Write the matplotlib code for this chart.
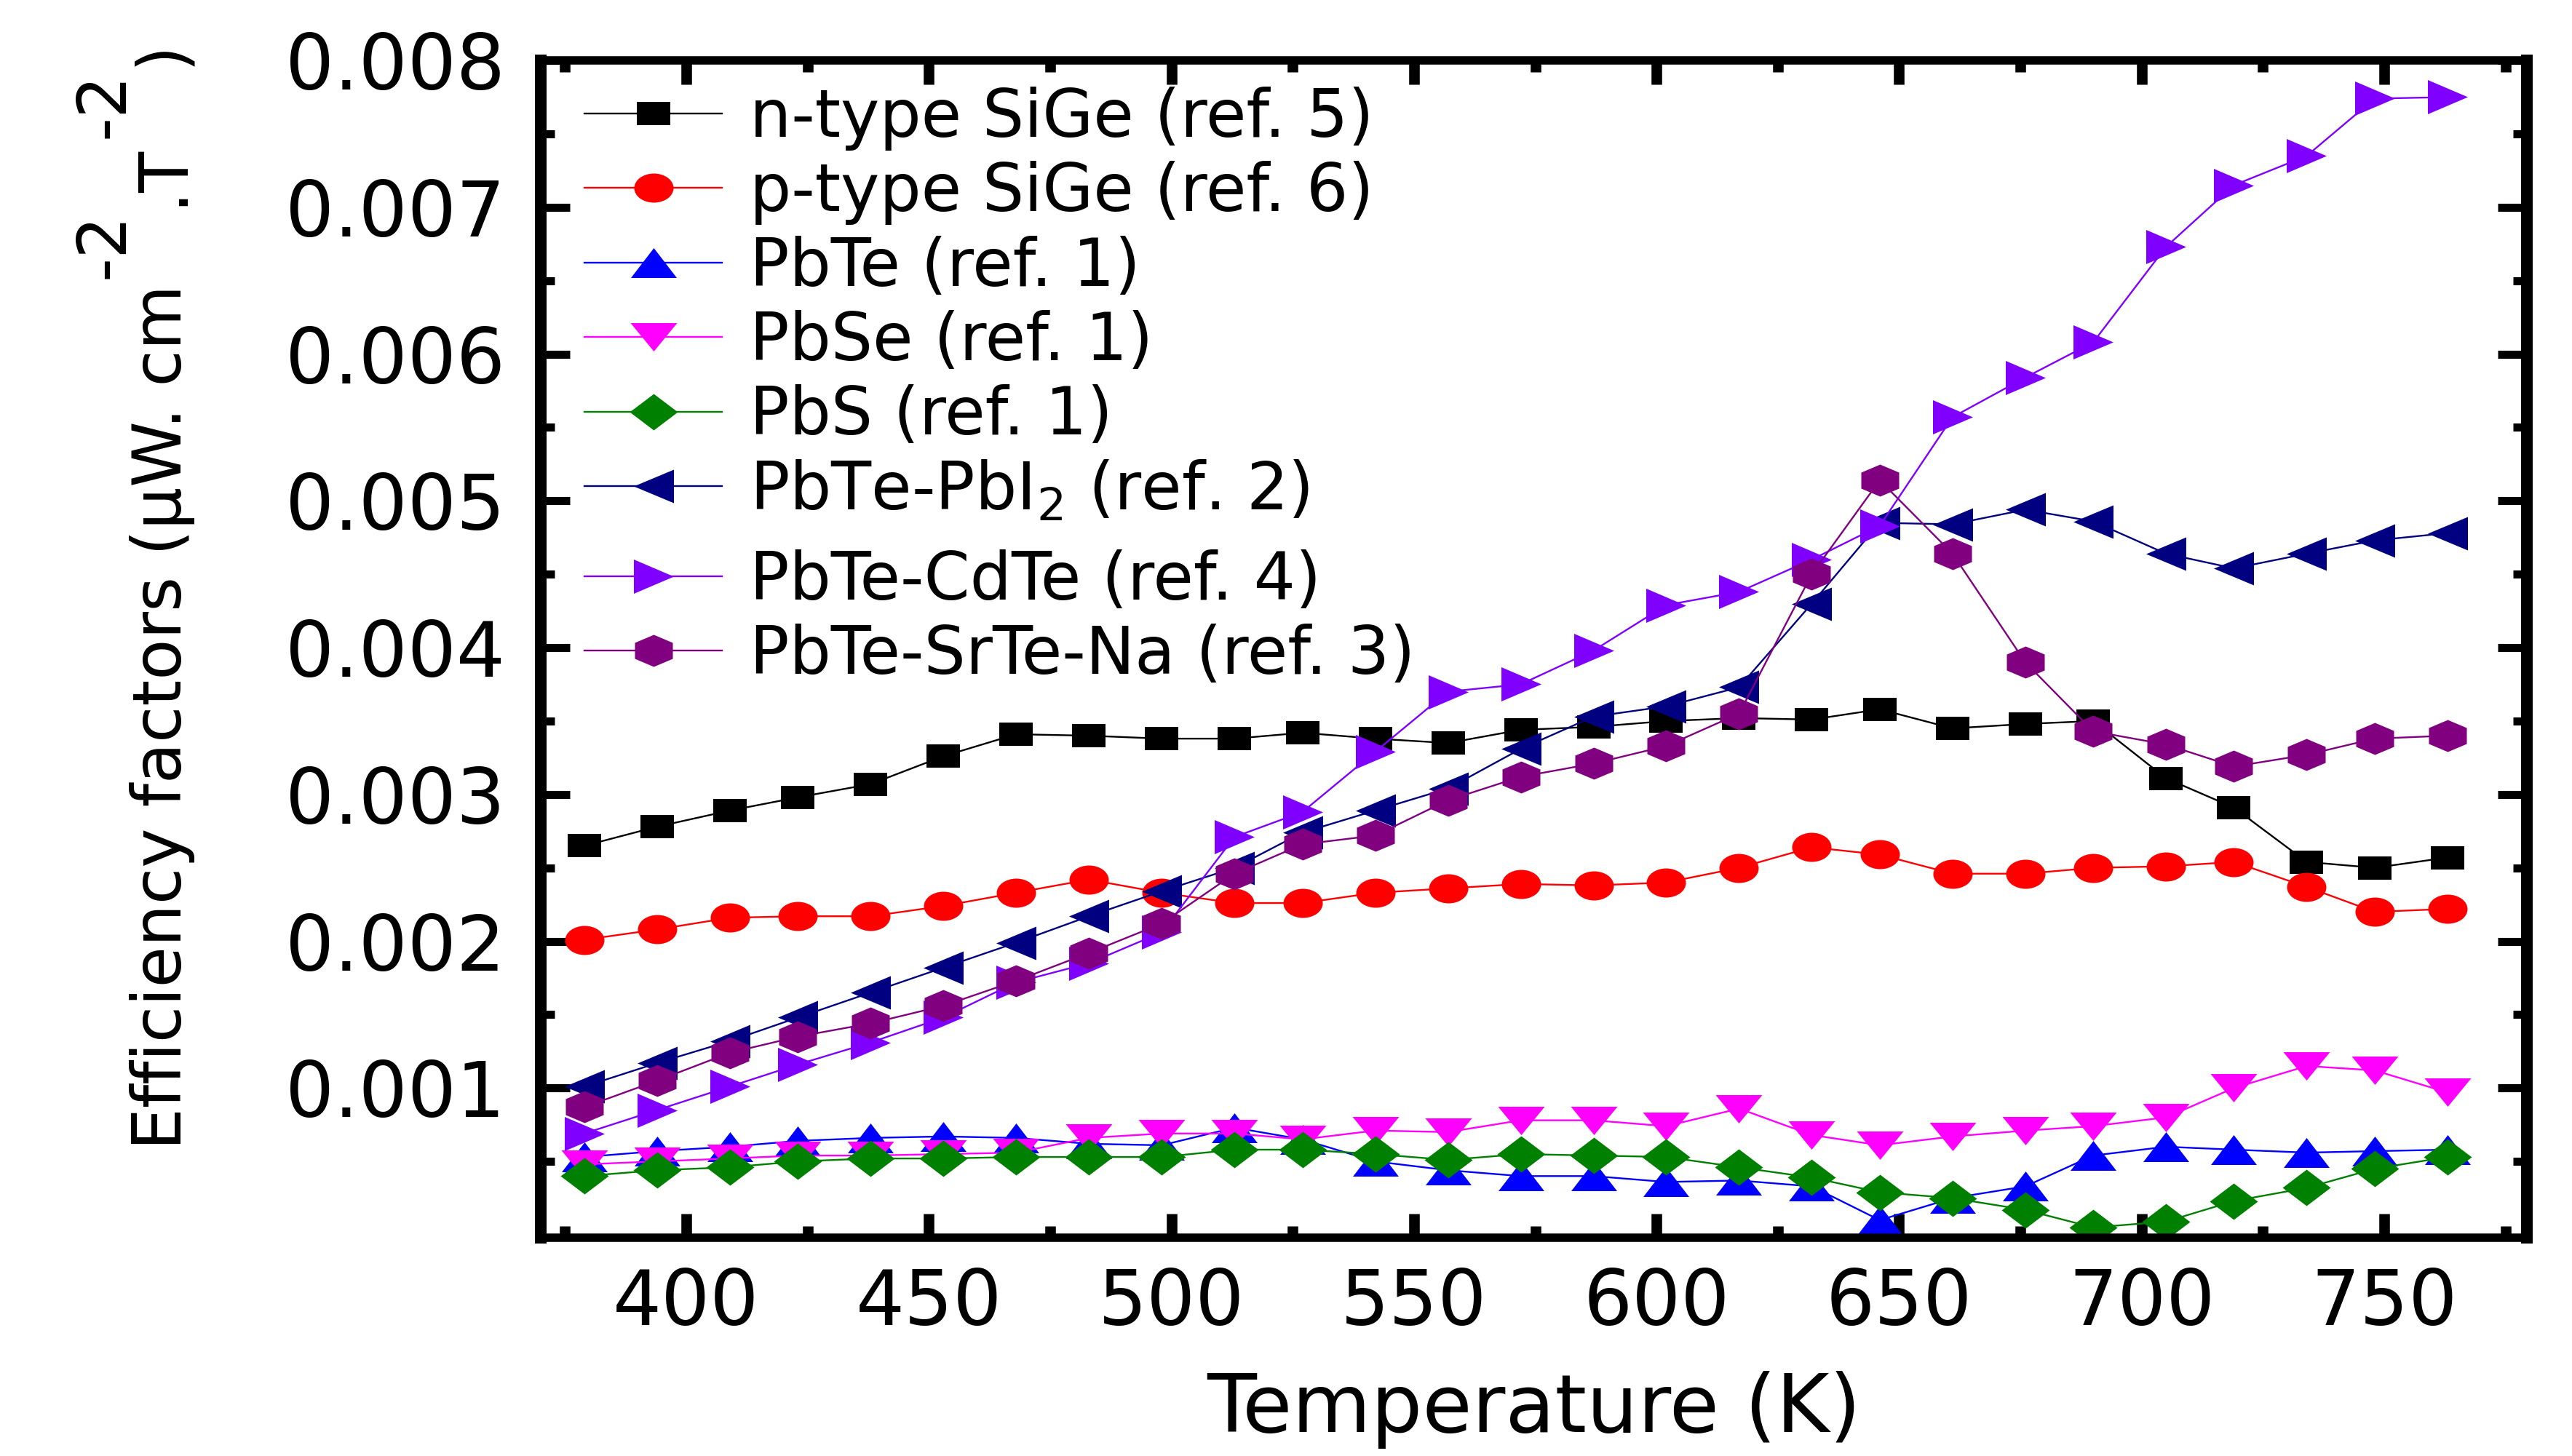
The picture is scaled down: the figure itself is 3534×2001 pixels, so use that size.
import matplotlib
matplotlib.use('Agg')
import matplotlib.pyplot as plt
from matplotlib.markers import MarkerStyle
from matplotlib.transforms import Affine2D
from matplotlib.ticker import FixedLocator, FormatStrFormatter

# temperature (K), same grid for every material
temperature = [379, 394, 409, 423, 438, 453, 468, 483, 498, 513, 527, 542, 557, 572,
               587, 602, 617, 632, 646, 661, 676, 690, 705, 719, 734, 748, 763]

n_sige = [0.00265, 0.00278, 0.00289, 0.00298, 0.00307, 0.00326, 0.00341, 0.00340, 0.00338,
          0.00338, 0.00342, 0.00338, 0.00335, 0.00344, 0.00346, 0.00350, 0.00352, 0.00351,
          0.00358, 0.00345, 0.00348, 0.00350, 0.00311, 0.00291, 0.00254, 0.00250, 0.00257]
p_sige = [0.00201, 0.00208, 0.00216, 0.00217, 0.00217, 0.00224, 0.00233, 0.00242, 0.00233,
          0.00226, 0.00226, 0.00233, 0.00236, 0.00239, 0.00238, 0.00240, 0.00250, 0.00264,
          0.00259, 0.00246, 0.00246, 0.00250, 0.00251, 0.00254, 0.00237, 0.00220, 0.00222]
pbte = [0.00053, 0.00057, 0.00060, 0.00064, 0.00066, 0.00067, 0.00066, 0.00062, 0.00061,
        0.00073, 0.00065, 0.00050, 0.00044, 0.00040, 0.00040, 0.00036, 0.00037, 0.00033,
        0.00010, 0.00025, 0.00033, 0.00054, 0.00060, 0.00058, 0.00056, 0.00057, 0.00058]
pbse = [0.00048, 0.00050, 0.00052, 0.00054, 0.00054, 0.00055, 0.00056, 0.00066, 0.00069,
        0.00069, 0.00065, 0.00071, 0.00070, 0.00078, 0.00078, 0.00074, 0.00086, 0.00068,
        0.00061, 0.00067, 0.00071, 0.00074, 0.00080, 0.00100, 0.00115, 0.00112, 0.00097]
pbs = [0.00040, 0.00044, 0.00046, 0.00050, 0.00052, 0.00052, 0.00053, 0.00053, 0.00053,
       0.00058, 0.00058, 0.00055, 0.00051, 0.00055, 0.00054, 0.00053, 0.00046, 0.00039,
       0.00029, 0.00025, 0.00017, 0.00005, 0.00009, 0.00023, 0.00032, 0.00045, 0.00053]
pbte_pbi2 = [0.00101, 0.00117, 0.00132, 0.00148, 0.00165, 0.00182, 0.00199, 0.00217, 0.00234,
             0.00250, 0.00274, 0.00289, 0.00304, 0.00331, 0.00353, 0.00360, 0.00373, 0.00430,
             0.00485, 0.00484, 0.00494, 0.00486, 0.00464, 0.00454, 0.00464, 0.00473, 0.00478]
pbte_cdte = [0.00069, 0.00085, 0.00101, 0.00116, 0.00131, 0.00148, 0.00172, 0.00185, 0.00206,
             0.00271, 0.00288, 0.00329, 0.00370, 0.00375, 0.00398, 0.00429, 0.00438, 0.00460,
             0.00483, 0.00557, 0.00584, 0.00608, 0.00673, 0.00715, 0.00735, 0.00774, 0.00775]
pbte_srte_na = [0.00087, 0.00105, 0.00124, 0.00135, 0.00144, 0.00156, 0.00173, 0.00192, 0.00212,
                0.00246, 0.00266, 0.00272, 0.00296, 0.00312, 0.00321, 0.00333, 0.00355, 0.00450,
                0.00514, 0.00464, 0.00390, 0.00343, 0.00334, 0.00319, 0.00327, 0.00338, 0.00340]

labels = ['n-type SiGe (ref. 5)', 'p-type SiGe (ref. 6)', 'PbTe (ref. 1)', 'PbSe (ref. 1)',
          'PbS (ref. 1)', 'PbTe-PbI$_2$ (ref. 2)', 'PbTe-CdTe (ref. 4)', 'PbTe-SrTe-Na (ref. 3)']
series = [n_sige, p_sige, pbte, pbse, pbs, pbte_pbi2, pbte_cdte, pbte_srte_na]

xticks = [400, 450, 500, 550, 600, 650, 700, 750]
xminor = [375, 425, 475, 525, 575, 625, 675, 725, 775]
yticks = [0.001, 0.002, 0.003, 0.004, 0.005, 0.006, 0.007, 0.008]
yminor = [0.0005, 0.0015, 0.0025, 0.0035, 0.0045, 0.0055, 0.0065, 0.0075]

# y label pieces: (text, raised?)
ylabel_parts = [('Efficiency factors (μW. cm', False), ('-2', True), ('.T', False),
                ('-2', True), (')', False)]

# colour, base marker, marker width/height in pixels (the original is stretched sideways)
styles = [('#000000', 's', 46, 33),
          ('#ff0000', 'o', 54, 40),
          ('#0000ff', '^', 63, 41),
          ('#ff00ff', 'v', 64, 39),
          ('#008000', 'D', 66, 50),
          ('#000080', '<', 55, 46),
          ('#8000ff', '>', 55, 47),
          ('#800080', 'h', 52, 44)]

DPI = 100
PT = 72.0 / DPI
W, H = 3534, 2001


def wide_marker(m, w, h):
    st = MarkerStyle(m)
    p = st.get_path().transformed(st.get_transform())
    ext = p.get_extents()
    p = p.transformed(Affine2D().translate(-(ext.x0 + ext.x1) / 2, -(ext.y0 + ext.y1) / 2)
                      .scale(w / ext.width, h / ext.height))
    half = abs(p.vertices).max()
    return p, 2 * half * PT


fig = plt.figure(figsize=(W / DPI, H / DPI), dpi=DPI)
ax = fig.add_axes([0.2102, 0.1499, 0.7723, 0.8086])

handles = []
for vals, lab, (c, m, w, h) in zip(series, labels, styles):
    path, ms = wide_marker(m, w, h)
    ln, = ax.plot(temperature, vals, color=c, lw=1.7, marker=path, markersize=ms,
                  mfc=c, mec=c, mew=0, label=lab)
    handles.append(ln)

ax.set_xlim(370, 779.4)
ax.set_ylim(-0.00002, 0.008)
ax.xaxis.set_major_locator(FixedLocator(xticks))
ax.xaxis.set_minor_locator(FixedLocator(xminor))
ax.yaxis.set_major_locator(FixedLocator(yticks))
ax.yaxis.set_minor_locator(FixedLocator(yminor))
ax.yaxis.set_major_formatter(FormatStrFormatter('%.3f'))

ax.tick_params(axis='x', which='major', direction='in', length=24, width=10.5,
               top=True, bottom=True, labelsize=76, pad=29)
ax.tick_params(axis='x', which='minor', direction='in', length=11.5, width=10.5,
               top=True, bottom=True)
ax.tick_params(axis='y', which='major', direction='in', length=29, width=8,
               left=True, right=True, labelsize=76, pad=35)
ax.tick_params(axis='y', which='minor', direction='in', length=14, width=8,
               left=True, right=True)

for side in ['left', 'right']:
    ax.spines[side].set_linewidth(11.5)
for side in ['top', 'bottom']:
    ax.spines[side].set_linewidth(8.3)

leg_kw = dict(loc='upper left', frameon=False, fontsize=65, borderpad=0, borderaxespad=0,
              handlelength=2.1, handletextpad=0.42, labelspacing=0.16, numpoints=1)
leg1 = ax.legend(handles[:6], labels[:6], bbox_to_anchor=(0.022, 0.978), **leg_kw)
ax.add_artist(leg1)
ax.legend(handles[6:], labels[6:], bbox_to_anchor=(0.022, 0.585), **leg_kw)

# y label built piece by piece so the powers stay full size, as in the original
renderer = fig.canvas.get_renderer()
base_x = 0.0705 * W
y_px = 0.2104 * H
for txt, up in ylabel_parts:
    x_px = base_x - 80 if up else base_x
    t = fig.text(x_px / W, y_px / H, txt, rotation=90, rotation_mode='anchor',
                 ha='left', va='baseline', fontsize=66)
    y_px = t.get_window_extent(renderer).y1 + 8

fig.text(0.5964, 0.0165, 'Temperature (K)', ha='center', va='baseline', fontsize=80)

fig.savefig('out.png', dpi=DPI)
